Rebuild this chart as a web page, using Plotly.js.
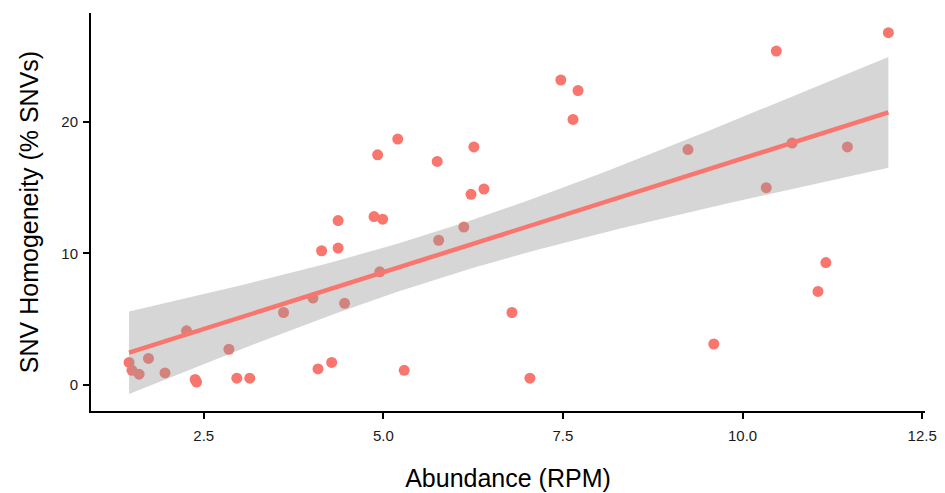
<!DOCTYPE html>
<html>
<head>
<meta charset="utf-8">
<script src="https://cdn.plot.ly/plotly-3.0.1.min.js"></script>
<style>html,body{margin:0;padding:0;background:#fff;}#chart{width:945px;height:493px;}</style>
</head>
<body>
<div id="chart"></div>
<script>
const abundance = [1.46,1.50,1.60,1.73,1.96,2.26,2.38,2.40,2.85,2.96,3.14,3.61,4.02,4.09,4.14,4.28,4.37,4.37,4.46,4.87,4.92,4.95,4.99,5.20,5.29,5.75,5.77,6.12,6.22,6.26,6.40,6.79,7.04,7.47,7.64,7.71,9.24,9.60,10.33,10.47,10.69,11.05,11.16,11.46,12.03];
const homogeneity = [1.7,1.1,0.8,2.0,0.9,4.1,0.4,0.2,2.7,0.5,0.5,5.5,6.6,1.2,10.2,1.7,12.5,10.4,6.2,12.8,17.5,8.6,12.6,18.7,1.1,17.0,11.0,12.0,14.5,18.1,14.9,5.5,0.5,23.2,20.2,22.4,17.9,3.1,15.0,25.4,18.4,7.1,9.3,18.1,26.8];
const xTicks = [2.5,5.0,7.5,10.0,12.5];
const xTickText = ["2.5","5.0","7.5","10.0","12.5"];
const yTicks = [0,10,20];
const yTickText = ["0","10","20"];

// linear model fit with 95% confidence band (as geom_smooth(method="lm"))
const n = abundance.length;
const mx = abundance.reduce((a,b)=>a+b,0)/n;
const my = homogeneity.reduce((a,b)=>a+b,0)/n;
let sxx=0, sxy=0;
for (let i=0;i<n;i++){ sxx+=(abundance[i]-mx)**2; sxy+=(abundance[i]-mx)*(homogeneity[i]-my); }
const b1 = sxy/sxx, b0 = my - b1*mx;
let sse=0;
for (let i=0;i<n;i++){ sse += (homogeneity[i]-(b0+b1*abundance[i]))**2; }
const s = Math.sqrt(sse/(n-2));
const tq = 2.017;
const xmin = Math.min(...abundance), xmax = Math.max(...abundance);
const fx=[], fy=[], lo=[], hi=[];
for (let k=0;k<80;k++){
  const x = xmin + (xmax-xmin)*k/79;
  const y = b0+b1*x;
  const se = s*Math.sqrt(1/n + (x-mx)**2/sxx);
  fx.push(x); fy.push(y); lo.push(y-tq*se); hi.push(y+tq*se);
}

const traces = [
  {x: abundance, y: homogeneity, type:'scatter', mode:'markers',
   marker:{color:'#F8766D', size:11, line:{width:0}}, hoverinfo:'skip'},
  {x: fx, y: lo, type:'scatter', mode:'lines', line:{width:0}, hoverinfo:'skip'},
  {x: fx, y: hi, type:'scatter', mode:'lines', line:{width:0}, fill:'tonexty',
   fillcolor:'rgba(153,153,153,0.4)', hoverinfo:'skip'},
  {x: fx, y: fy, type:'scatter', mode:'lines', line:{color:'#F8766D', width:4.5}, hoverinfo:'skip'}
];

const layout = {
  width:945, height:493,
  margin:{l:91, r:20, t:13, b:82},
  paper_bgcolor:'#fff', plot_bgcolor:'#fff',
  showlegend:false,
  font:{family:'Liberation Sans, Arial, sans-serif', color:'#1a1a1a'},
  xaxis:{
    range:[0.93,12.54], showgrid:false, zeroline:false,
    showline:true, linecolor:'#000', linewidth:2,
    ticks:'outside', ticklen:6, tickwidth:2, tickcolor:'#000',
    tickvals:xTicks, ticktext:xTickText, ticklabelstandoff:4,
    tickfont:{size:15, color:'#1a1a1a'},
    title:{text:'Abundance (RPM)', font:{size:25, color:'#000'}, standoff:26}
  },
  yaxis:{
    range:[-2.0,28.3], showgrid:false, zeroline:false,
    showline:true, linecolor:'#000', linewidth:2,
    ticks:'outside', ticklen:6, tickwidth:2, tickcolor:'#000',
    tickvals:yTicks, ticktext:yTickText, ticklabelstandoff:2,
    tickfont:{size:15, color:'#1a1a1a'},
    title:{text:'SNV Homogeneity (% SNVs)', font:{size:25, color:'#000'}, standoff:16}
  }
};
Plotly.newPlot('chart', traces, layout, {staticPlot:true, displayModeBar:false});
</script>
</body>
</html>
